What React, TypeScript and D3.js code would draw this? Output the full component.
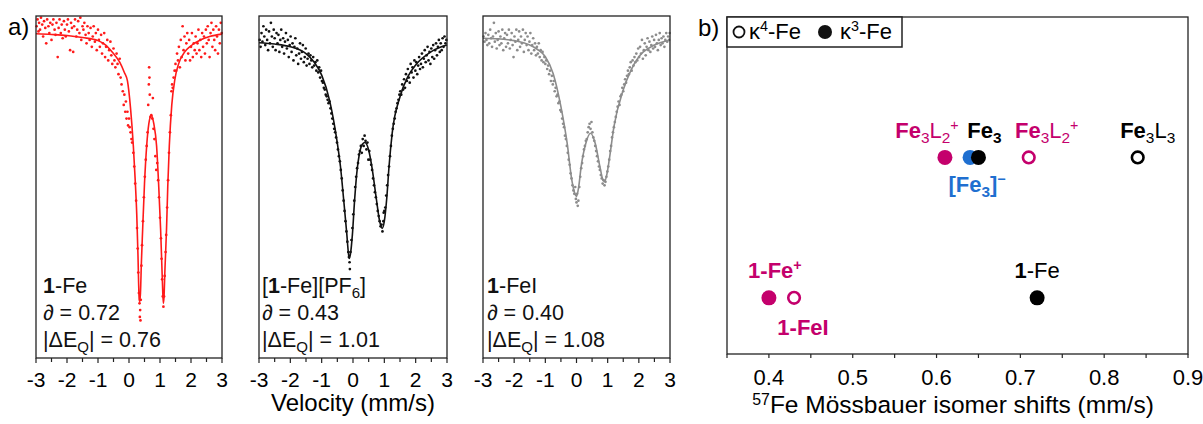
import * as d3 from 'd3';

// ---------- panel a: Mössbauer spectra (velocity mm/s, relative transmission 0-100) ----------
const VELOCITY_TICKS = [-3, -2, -1, 0, 1, 2, 3];
const VELOCITY_MINOR = [-2.5, -1.5, -0.5, 0.5, 1.5, 2.5];

const feFit: [number, number][] = [
  [-3, 94.8], [-2.5, 94.6], [-2, 94.3], [-1.5, 93.7], [-1, 92.8], [-0.75, 91.5], [-0.5, 89], [-0.3, 86.5],
  [-0.15, 83.5], [-0.05, 81], [0.05, 73], [0.14, 62], [0.2, 52], [0.25, 42], [0.29, 30], [0.31, 22],
  [0.33, 17], [0.35, 16.5], [0.37, 19], [0.4, 28], [0.44, 37.5], [0.5, 51], [0.57, 62], [0.64, 68.5],
  [0.72, 71], [0.8, 68.5], [0.89, 62], [0.96, 50], [1.02, 37.5], [1.06, 27], [1.09, 19], [1.11, 16],
  [1.13, 18], [1.16, 26], [1.21, 37.5], [1.25, 50], [1.3, 62], [1.38, 74], [1.48, 81.5], [1.6, 86],
  [1.8, 89.5], [2.0, 91.3], [2.3, 93], [2.6, 94], [3, 94.7],
];

const feData: [number, number][] = [
  [-2.98, 97], [-2.95, 99], [-2.92, 95.5], [-2.9, 98], [-2.87, 96], [-2.84, 99.5], [-2.8, 97.5], [-2.77, 94],
  [-2.74, 98.5], [-2.7, 96.5], [-2.67, 92], [-2.64, 99], [-2.6, 97], [-2.57, 95], [-2.54, 98], [-2.5, 93],
  [-2.47, 97.5], [-2.44, 99], [-2.4, 96], [-2.37, 94.5], [-2.34, 98], [-2.3, 88], [-2.27, 96.5], [-2.24, 99],
  [-2.2, 95], [-2.17, 97.5], [-2.14, 93.5], [-2.1, 98.5], [-2.07, 96], [-2.04, 94], [-2.0, 97.5], [-1.97, 99],
  [-1.94, 95.5], [-1.9, 90], [-1.87, 98], [-1.84, 96.5], [-1.8, 89.5], [-1.77, 97], [-1.74, 99], [-1.7, 94],
  [-1.67, 96], [-1.64, 98.5], [-1.6, 95], [-1.57, 99.5], [-1.54, 93], [-1.5, 97], [-1.47, 96], [-1.44, 98],
  [-1.4, 94.5], [-1.37, 92], [-1.34, 97], [-1.3, 95], [-1.27, 93], [-1.24, 96.5], [-1.2, 91], [-1.17, 94],
  [-1.14, 97], [-1.1, 92.5], [-1.07, 95], [-1.04, 90], [-1.0, 96], [-0.97, 93], [-0.94, 91], [-0.9, 94.5],
  [-0.87, 89], [-0.84, 92], [-0.8, 95], [-0.77, 88], [-0.74, 91], [-0.7, 93], [-0.67, 87], [-0.64, 90],
  [-0.6, 92.5], [-0.57, 88.5], [-0.54, 86], [-0.5, 90.5], [-0.47, 87], [-0.44, 85], [-0.4, 89], [-0.37, 86],
  [-0.34, 83], [-0.3, 87.5], [-0.27, 82], [-0.24, 80], [-0.2, 78], [-0.17, 74], [-0.15, 77], [-0.12, 72],
  [-0.1, 75], [-0.08, 70], [-0.05, 72], [-0.03, 68], [0.0, 70], [0.02, 67.5], [0.05, 66], [0.08, 64],
  [0.1, 63], [0.14, 60], [0.17, 56], [0.2, 51], [0.23, 46], [0.26, 38], [0.28, 32], [0.3, 25],
  [0.32, 19], [0.34, 16], [0.36, 14], [0.35, 12], [0.37, 11], [0.38, 17], [0.4, 27], [0.42, 33],
  [0.45, 40], [0.48, 47], [0.51, 53], [0.54, 58], [0.57, 62], [0.6, 66], [0.62, 74], [0.64, 80],
  [0.65, 85], [0.66, 82], [0.67, 77], [0.69, 70.5], [0.72, 71], [0.75, 70], [0.77, 76], [0.79, 67],
  [0.82, 64], [0.85, 59], [0.88, 55], [0.91, 57], [0.94, 52], [0.97, 47], [1.0, 41], [1.03, 35],
  [1.05, 29], [1.07, 23], [1.09, 18], [1.11, 15], [1.13, 18], [1.15, 24], [1.18, 31], [1.2, 36],
  [1.23, 44], [1.26, 52], [1.29, 60], [1.32, 66], [1.35, 71], [1.37, 78], [1.39, 80], [1.41, 79],
  [1.44, 82], [1.47, 84], [1.5, 86], [1.52, 84], [1.55, 89], [1.58, 87], [1.61, 91], [1.64, 85],
  [1.67, 93], [1.7, 88], [1.73, 97], [1.76, 90], [1.79, 94], [1.82, 87], [1.85, 92], [1.88, 95],
  [1.91, 89], [1.94, 93], [1.97, 87], [2.0, 91], [2.03, 95], [2.06, 88], [2.09, 92], [2.12, 90],
  [2.15, 94], [2.18, 89], [2.21, 92], [2.24, 96], [2.27, 90], [2.3, 93], [2.33, 88], [2.36, 95],
  [2.39, 91], [2.42, 94], [2.45, 89], [2.48, 96], [2.51, 92], [2.54, 97], [2.57, 93], [2.6, 88],
  [2.63, 95], [2.66, 98], [2.69, 91], [2.72, 96], [2.75, 93], [2.78, 90], [2.81, 97], [2.84, 94],
  [2.87, 89], [2.9, 96], [2.93, 92], [2.96, 98], [2.99, 95],
];

const fePF6Fit: [number, number][] = [
  [-3, 92.2], [-2.5, 91.8], [-2, 91], [-1.5, 89], [-1.25, 86.6], [-1, 82.7], [-0.75, 75.4], [-0.5, 62.8],
  [-0.4, 56], [-0.3, 46.5], [-0.2, 36.5], [-0.15, 31], [-0.12, 29.1], [-0.08, 30.5], [-0.02, 36], [0.05, 46],
  [0.12, 54], [0.2, 59.5], [0.3, 62.5], [0.38, 63], [0.5, 60.8], [0.6, 56], [0.75, 46.2], [0.85, 40],
  [0.93, 37.9], [1.0, 40], [1.08, 47], [1.15, 56], [1.25, 65.7], [1.5, 76.4], [1.75, 82.3], [2, 85.7],
  [2.5, 89.6], [3, 91.5],
];

const fePF6Data: [number, number][] = [
  [-2.98, 93], [-2.95, 91], [-2.92, 95], [-2.89, 92.5], [-2.86, 97], [-2.83, 94], [-2.8, 91.5], [-2.77, 96],
  [-2.74, 93], [-2.71, 90], [-2.68, 95.5], [-2.65, 92], [-2.62, 98], [-2.59, 94], [-2.56, 91], [-2.53, 96],
  [-2.5, 93.5], [-2.47, 90], [-2.44, 95], [-2.41, 92], [-2.38, 94.5], [-2.35, 89.5], [-2.32, 93], [-2.29, 96],
  [-2.26, 91], [-2.23, 93.5], [-2.2, 89], [-2.17, 92.5], [-2.14, 95], [-2.11, 90.5], [-2.08, 93], [-2.05, 88],
  [-2.02, 91.5], [-1.99, 94], [-1.96, 89.5], [-1.93, 92], [-1.9, 87], [-1.87, 91], [-1.84, 93.5], [-1.81, 88.5],
  [-1.78, 90.5], [-1.75, 86], [-1.72, 89], [-1.69, 92], [-1.66, 87.5], [-1.63, 89.5], [-1.6, 91.5], [-1.57, 86.5],
  [-1.54, 88], [-1.51, 90.5], [-1.48, 85.5], [-1.45, 87.5], [-1.42, 89], [-1.39, 86], [-1.36, 88.5], [-1.33, 87],
  [-1.3, 85], [-1.27, 88], [-1.24, 85.5], [-1.2, 86.5], [-1.17, 84], [-1.14, 87], [-1.11, 83.5], [-1.08, 85],
  [-1.05, 82], [-1.02, 84], [-0.99, 81], [-0.96, 80.5], [-0.93, 79], [-0.9, 78.5], [-0.87, 77], [-0.84, 76.5],
  [-0.81, 75.5], [-0.78, 74.5], [-0.75, 75], [-0.72, 73], [-0.69, 71.5], [-0.66, 70], [-0.63, 68.5], [-0.6, 67],
  [-0.57, 66], [-0.54, 64.5], [-0.51, 63], [-0.48, 61], [-0.45, 59], [-0.42, 57.5], [-0.39, 55], [-0.36, 52.5],
  [-0.33, 49], [-0.3, 46], [-0.27, 43], [-0.24, 40], [-0.21, 37], [-0.18, 34], [-0.15, 31], [-0.13, 29.5],
  [-0.11, 28], [-0.1, 26], [-0.08, 31], [-0.05, 34.5], [-0.02, 38], [0.01, 42], [0.04, 46], [0.07, 50],
  [0.1, 53], [0.13, 55.5], [0.16, 57], [0.19, 59.5], [0.22, 60.5], [0.25, 62], [0.28, 60], [0.31, 64],
  [0.34, 62], [0.37, 65], [0.4, 63.5], [0.43, 61], [0.46, 63], [0.49, 58], [0.52, 60.5], [0.55, 58],
  [0.58, 56.5], [0.61, 55], [0.64, 52.5], [0.67, 50.5], [0.7, 48.5], [0.73, 47], [0.76, 45], [0.79, 43],
  [0.82, 41.5], [0.85, 40], [0.88, 38.5], [0.91, 39], [0.94, 37], [0.97, 40], [0.98, 42.5], [1.0, 43],
  [1.03, 44], [1.06, 47.5], [1.09, 50.5], [1.12, 53.5], [1.15, 56], [1.18, 59], [1.21, 62], [1.24, 65],
  [1.27, 67], [1.3, 68.5], [1.33, 70], [1.36, 72], [1.39, 73], [1.42, 74.5], [1.45, 75.5], [1.48, 77],
  [1.51, 78], [1.54, 77], [1.57, 80], [1.6, 78.5], [1.63, 81.5], [1.66, 79], [1.69, 83], [1.72, 81],
  [1.75, 84.5], [1.78, 82], [1.81, 80.5], [1.84, 86], [1.87, 83.5], [1.9, 85], [1.93, 82], [1.96, 87],
  [1.99, 84], [2.02, 86.5], [2.05, 83], [2.08, 85.5], [2.11, 88], [2.14, 84.5], [2.17, 86], [2.2, 89],
  [2.23, 85], [2.26, 87.5], [2.29, 90], [2.32, 86.5], [2.35, 88.5], [2.38, 91], [2.41, 87], [2.44, 89.5],
  [2.47, 86], [2.5, 90.5], [2.53, 88], [2.56, 91.5], [2.59, 87.5], [2.62, 90], [2.65, 92], [2.68, 88.5],
  [2.71, 91], [2.74, 93], [2.77, 89.5], [2.8, 92], [2.83, 90], [2.86, 93.5], [2.89, 91], [2.92, 94],
  [2.95, 92], [2.98, 93],
];

const feIFit: [number, number][] = [
  [-3, 93.5], [-2.5, 93.3], [-2, 92.8], [-1.5, 91.5], [-1.25, 90.2], [-1, 88.1], [-0.75, 83.2], [-0.5, 73.5],
  [-0.3, 62.8], [-0.15, 52], [-0.05, 48], [0, 47.2], [0.07, 50], [0.15, 56], [0.3, 62.8], [0.45, 65.7],
  [0.6, 62.8], [0.75, 56], [0.85, 52], [0.9, 51.6], [0.97, 53.5], [1.05, 57.9], [1.2, 67.6], [1.5, 78.4],
  [1.75, 84.2], [2, 88.1], [2.5, 91.5], [3, 93],
];

const feIData: [number, number][] = [
  [-2.98, 94], [-2.95, 92.5], [-2.92, 95], [-2.89, 93], [-2.86, 91.5], [-2.83, 94.5], [-2.8, 92], [-2.77, 96],
  [-2.74, 93.5], [-2.71, 91], [-2.68, 94], [-2.65, 98], [-2.62, 92.5], [-2.59, 95], [-2.56, 90.5], [-2.53, 93],
  [-2.5, 95.5], [-2.47, 91.5], [-2.44, 94], [-2.41, 92], [-2.38, 96], [-2.35, 90], [-2.32, 93.5], [-2.29, 95],
  [-2.26, 91], [-2.23, 94.5], [-2.2, 92], [-2.17, 96], [-2.14, 90.5], [-2.11, 93], [-2.08, 95], [-2.05, 91.5],
  [-2.02, 88], [-1.99, 94], [-1.96, 92.5], [-1.93, 96], [-1.9, 90], [-1.87, 93], [-1.84, 95.5], [-1.81, 91],
  [-1.78, 94], [-1.75, 92], [-1.72, 96], [-1.69, 89.5], [-1.66, 93], [-1.63, 95], [-1.6, 91.5], [-1.57, 94],
  [-1.54, 90], [-1.51, 92.5], [-1.48, 95], [-1.45, 89], [-1.42, 91.5], [-1.39, 93.5], [-1.36, 90], [-1.33, 92],
  [-1.3, 88.5], [-1.27, 91], [-1.24, 89], [-1.21, 92], [-1.18, 88], [-1.15, 90], [-1.12, 87], [-1.09, 89.5],
  [-1.06, 86.5], [-1.03, 88], [-1.0, 86], [-0.97, 87], [-0.94, 84.5], [-0.91, 85.5], [-0.88, 83], [-0.85, 84],
  [-0.82, 81], [-0.79, 82.5], [-0.76, 80], [-0.73, 81], [-0.7, 78], [-0.67, 79], [-0.64, 76.5], [-0.61, 77],
  [-0.58, 74.5], [-0.55, 75], [-0.52, 72.5], [-0.49, 72], [-0.46, 70], [-0.43, 68.5], [-0.4, 67.5], [-0.37, 65],
  [-0.34, 64], [-0.31, 62], [-0.28, 60], [-0.25, 58], [-0.22, 56.5], [-0.19, 54], [-0.16, 52.5], [-0.13, 50.5],
  [-0.1, 49], [-0.07, 48], [-0.04, 50], [-0.02, 46.5], [0.0, 45.5], [0.02, 48], [0.04, 44.5], [0.06, 46],
  [0.09, 50], [0.12, 53], [0.15, 55.5], [0.18, 57], [0.21, 59], [0.24, 61], [0.27, 62], [0.3, 63.5],
  [0.33, 64], [0.36, 66], [0.39, 67.5], [0.42, 68.5], [0.45, 67], [0.48, 69], [0.51, 66], [0.54, 64.5],
  [0.57, 63.5], [0.6, 62], [0.63, 60.5], [0.66, 59], [0.69, 57.5], [0.72, 56], [0.75, 55], [0.78, 53.5],
  [0.81, 52.5], [0.84, 51], [0.87, 52], [0.9, 50.5], [0.93, 51.5], [0.96, 53], [0.99, 54.5], [1.02, 56],
  [1.05, 58], [1.08, 60.5], [1.11, 62], [1.14, 64.5], [1.17, 66], [1.2, 67.5], [1.23, 69], [1.26, 70.5],
  [1.29, 72], [1.32, 73.5], [1.35, 75], [1.38, 74], [1.41, 76.5], [1.44, 77], [1.47, 79], [1.5, 78],
  [1.53, 80], [1.56, 81.5], [1.59, 80.5], [1.62, 82.5], [1.65, 84], [1.68, 83], [1.71, 85], [1.74, 86.5],
  [1.77, 84], [1.8, 87], [1.83, 85.5], [1.86, 88], [1.89, 86.5], [1.92, 89], [1.95, 87], [1.98, 90.5],
  [2.01, 88], [2.04, 91], [2.07, 89], [2.1, 93], [2.13, 87.5], [2.16, 90], [2.19, 92], [2.22, 88.5],
  [2.25, 91], [2.28, 93.5], [2.31, 90], [2.34, 92.5], [2.37, 89.5], [2.4, 91.5], [2.43, 94], [2.46, 90.5],
  [2.49, 93], [2.52, 91], [2.55, 94.5], [2.58, 92], [2.61, 90], [2.64, 93], [2.67, 95], [2.7, 91.5],
  [2.73, 93.5], [2.76, 92], [2.79, 94], [2.82, 91], [2.85, 93], [2.88, 95], [2.91, 92.5], [2.94, 94],
  [2.97, 93], [2.99, 95],
];

const isomerShiftLabels = ['0.72', '0.43', '0.40'];
const quadrupoleLabels = ['0.76', '1.01', '1.08'];

// ---------- panel b: isomer shifts ----------
const SHIFT_TICKS = [0.4, 0.5, 0.6, 0.7, 0.8, 0.9];
const SHIFT_MINOR = [0.35, 0.45, 0.55, 0.65, 0.75, 0.85];

const shiftNames = ['1-Fe+', '1-FeI', '1-Fe', 'Fe3L2+ k3', '[Fe3]-', 'Fe3', 'Fe3L2+ k4', 'Fe3L3'];
const shiftValues = [0.40, 0.43, 0.72, 0.61, 0.64, 0.65, 0.71, 0.84];
const shiftRows = [0.4, 0.4, 0.4, 1.4, 1.4, 1.4, 1.4, 1.4];
const shiftKappa = [3, 4, 3, 3, 3, 3, 4, 4];
const shiftGroup = ['cation', 'cation', 'neutral', 'cation', 'anion', 'neutral', 'cation', 'neutral'];

const MAGENTA = '#c4006c';
const BLUE = '#1f6fd0';
const groupColor: Record<string, string> = { cation: MAGENTA, anion: BLUE, neutral: '#000' };

const FONT = "'Liberation Sans', Arial, Helvetica, sans-serif";

// label placement relative to each point: [dx, dy]
const labelOffset: [number, number][] = [
  [6, -20], [9, 37], [0, -20], [-18, -19], [7, 35], [6, -19], [18, -19], [10, -19],
];

const Sub = ({ t, w }: { t: string; w?: string }) => (
  <tspan baselineShift={-5} fontSize="70%" fontWeight={w}>{t}</tspan>
);

const Sup = ({ t, w }: { t: string; w?: string }) => (
  <tspan baselineShift={8} fontSize="65%" fontWeight={w}>{t}</tspan>
);

function shiftLabel(i: number) {
  const n = shiftNames[i];
  if (n === '1-Fe+')
    return (<><tspan>1-Fe</tspan><Sup t="+" /></>);
  if (n === '1-FeI') return <tspan>1-FeI</tspan>;
  if (n === '1-Fe')
    return (<><tspan>1</tspan><tspan fontWeight="normal">-Fe</tspan></>);
  if (n.startsWith('Fe3L2+'))
    return (<><tspan>Fe</tspan><Sub t="3" w="normal" /><tspan fontWeight="normal">L</tspan><Sub t="2" w="normal" /><Sup t="+" w="normal" /></>);
  if (n === '[Fe3]-')
    return (<><tspan>[Fe</tspan><Sub t="3" /><tspan>]</tspan><Sup t="−" /></>);
  if (n === 'Fe3')
    return (<><tspan>Fe</tspan><Sub t="3" /></>);
  return (<><tspan>Fe</tspan><Sub t="3" w="normal" /><tspan fontWeight="normal">L</tspan><Sub t="3" w="normal" /></>);
}

const W = 1203;
const H = 424;

const panelsA = [
  { fit: feFit, data: feData, color: '#ff1a1a', x0: 36, x1: 222, textX: 43 },
  { fit: fePF6Fit, data: fePF6Data, color: '#111', x0: 259, x1: 447, textX: 262 },
  { fit: feIFit, data: feIData, color: '#8c8c8c', x0: 483, x1: 670, textX: 487 },
];

const A_TOP = 16;
const A_BOTTOM = 358;

const SpectrumPanel = ({ p, idx }: { p: typeof panelsA[number]; idx: number }) => {
  const x = d3.scaleLinear().domain([-3, 3]).range([p.x0, p.x1]);
  const y = d3.scaleLinear().domain([0, 100]).range([A_BOTTOM, A_TOP]);
  const line = d3.line<[number, number]>()
    .x(d => x(d[0]))
    .y(d => y(d[1]))
    .curve(d3.curveMonotoneX);

  const name =
    idx === 0 ? (<><tspan fontWeight="bold">1</tspan><tspan>-Fe</tspan></>)
    : idx === 1 ? (<><tspan>[</tspan><tspan fontWeight="bold">1</tspan><tspan>-Fe][PF</tspan><Sub t="6" /><tspan>]</tspan></>)
    : (<><tspan fontWeight="bold">1</tspan><tspan>-FeI</tspan></>);

  return (
    <g>
      {p.data.map((d, i) => (
        <circle key={i} cx={x(d[0])} cy={y(d[1])} r={1.35} fill={p.color} />
      ))}
      <path d={line(p.fit) ?? ''} fill="none" stroke={p.color} strokeWidth={1.6} />
      <rect x={p.x0} y={A_TOP} width={p.x1 - p.x0} height={A_BOTTOM - A_TOP} fill="none" stroke="#222" strokeWidth={1.3} />
      {VELOCITY_TICKS.map(t => (
        <g key={t}>
          <line x1={x(t)} x2={x(t)} y1={A_BOTTOM} y2={A_BOTTOM + 5} stroke="#222" strokeWidth={1.2} />
          <text x={x(t)} y={387} textAnchor="middle" fontSize={21}>{t}</text>
        </g>
      ))}
      {VELOCITY_MINOR.map(t => (
        <line key={t} x1={x(t)} x2={x(t)} y1={A_BOTTOM} y2={A_BOTTOM + 4} stroke="#222" strokeWidth={1.2} />
      ))}
      <g fontSize={21.5} fill="#111">
        <text x={p.textX} y={293}>{name}</text>
        <text x={p.textX} y={320}>∂ = {isomerShiftLabels[idx]}</text>
        <text x={p.textX} y={347}>|ΔE<Sub t="Q" />| = {quadrupoleLabels[idx]}</text>
      </g>
    </g>
  );
};

export default function App() {
  const xb = d3.scaleLinear().domain([0.35, 0.9]).range([727, 1188]);
  const yb = d3.scaleLinear().domain([0, 2.4]).range([354, 17]);
  const B_BOTTOM = yb(0);
  const B_TOP = yb(2.4);

  const order = [0, 1, 2, 3, 4, 5, 6, 7];

  return (
    <svg width={W} height={H} viewBox={`0 0 ${W} ${H}`}
      style={{ position: 'absolute', left: 0, top: 0, background: '#fff' }}
      fontFamily={FONT}>
      <text x={8} y={35} fontSize={24}>a)</text>
      {panelsA.map((p, i) => <SpectrumPanel key={i} p={p} idx={i} />)}
      <text x={353} y={411} textAnchor="middle" fontSize={24}>Velocity (mm/s)</text>

      {/* panel b */}
      <text x={698} y={36} fontSize={24}>b)</text>
      <rect x={xb(0.35)} y={B_TOP} width={xb(0.9) - xb(0.35)} height={B_BOTTOM - B_TOP} fill="none" stroke="#222" strokeWidth={1.3} />
      {SHIFT_TICKS.concat(SHIFT_MINOR).map(t => (
        <line key={t} x1={xb(t)} x2={xb(t)} y1={B_BOTTOM} y2={B_BOTTOM + 4} stroke="#222" strokeWidth={1.2} />
      ))}
      {SHIFT_TICKS.map(t => (
        <text key={t} x={xb(t)} y={385} textAnchor="middle" fontSize={22}>{t.toFixed(1)}</text>
      ))}
      <text x={953} y={413} textAnchor="middle" fontSize={24.5}>
        <tspan baselineShift={8} fontSize="65%">57</tspan><tspan>Fe Mössbauer isomer shifts (mm/s)</tspan>
      </text>

      {order.map(i => {
        const cx = xb(shiftValues[i]);
        const cy = yb(shiftRows[i]);
        const c = groupColor[shiftGroup[i]];
        return shiftKappa[i] === 3
          ? <circle key={i} cx={cx} cy={cy} r={7.5} fill={c} />
          : <circle key={i} cx={cx} cy={cy} r={5.8} fill="#fff" stroke={c} strokeWidth={2.6} />;
      })}
      {order.map(i => (
        <text key={`l${i}`} x={xb(shiftValues[i]) + labelOffset[i][0]} y={yb(shiftRows[i]) + labelOffset[i][1]}
          textAnchor="middle" fontSize={22} fontWeight="bold" fill={groupColor[shiftGroup[i]]}>
          {shiftLabel(i)}
        </text>
      ))}

      {/* legend */}
      <rect x={727} y={17} width={175} height={30} fill="#fff" stroke="#222" strokeWidth={1.5} />
      <circle cx={739} cy={32} r={5.5} fill="none" stroke="#111" strokeWidth={1.8} />
      <text x={749} y={39} fontSize={22}>κ<tspan baselineShift={8} fontSize="65%">4</tspan><tspan>-Fe</tspan></text>
      <circle cx={825} cy={32} r={7} fill="#111" />
      <text x={840} y={39} fontSize={22}>κ<tspan baselineShift={8} fontSize="65%">3</tspan><tspan>-Fe</tspan></text>
    </svg>
  );
}
